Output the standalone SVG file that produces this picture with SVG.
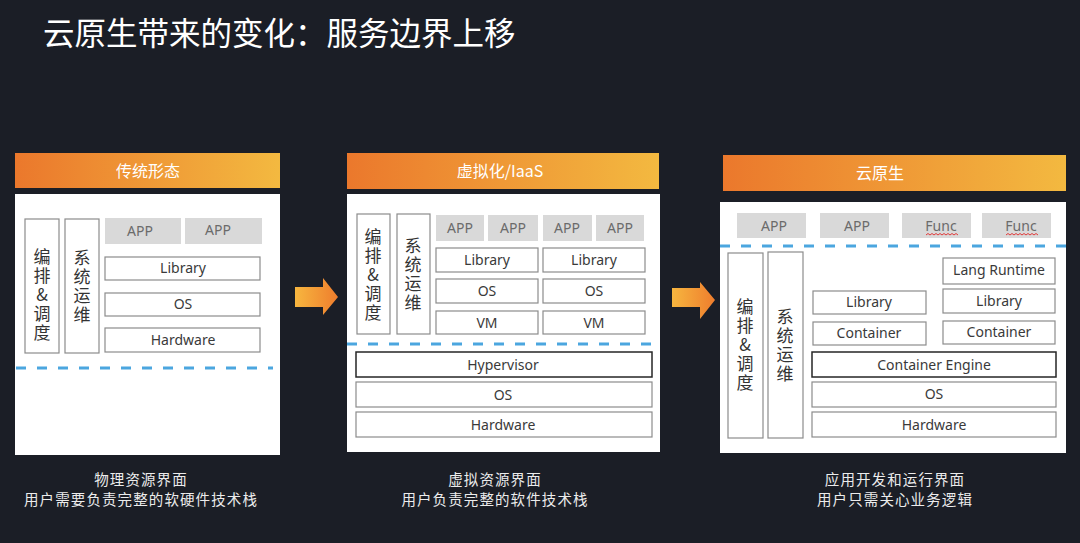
<svg xmlns="http://www.w3.org/2000/svg" width="1080" height="543" viewBox="0 0 1080 543">
<defs>
<linearGradient id="hdr" x1="0" y1="0" x2="1" y2="0">
<stop offset="0" stop-color="#eb782c"/>
<stop offset="1" stop-color="#f3b940"/>
</linearGradient>
<linearGradient id="arr" x1="0" y1="0" x2="1" y2="0">
<stop offset="0" stop-color="#f7b63f"/>
<stop offset="1" stop-color="#ee7d2d"/>
</linearGradient>
<style>
.bg{fill:#1b1e26}
.panel{fill:#ffffff}
.hdr{fill:url(#hdr)}
.htxt{font-family:"Noto Sans CJK SC","Noto Sans",sans-serif;font-size:16px;fill:#ffffff;text-anchor:middle}
.box{fill:#ffffff;stroke:#8c8c8c;stroke-width:1.2}
.dark{fill:#ffffff;stroke:#262626;stroke-width:1.5}
.app{fill:#d9d9d9}
.t{font-family:"Noto Sans","Noto Sans CJK SC",sans-serif;font-size:14px;fill:#3a3a3a;text-anchor:middle}
.ta{font-family:"Noto Sans","Noto Sans CJK SC",sans-serif;font-size:14px;fill:#6b6b6b;text-anchor:middle}
.v{font-family:"Noto Sans CJK SC",sans-serif;font-size:17px;fill:#333333;text-anchor:middle;writing-mode:vertical-rl;text-orientation:upright;letter-spacing:2px}
.dash{stroke:#4ba6df;stroke-width:3;stroke-dasharray:10 11;fill:none}
.cap{font-family:"Noto Sans CJK SC",sans-serif;font-size:14.5px;letter-spacing:1.1px;fill:#ececec;text-anchor:middle}
.sq{stroke:#e03a3a;stroke-width:1;fill:none}
</style>
</defs>
<rect class="bg" x="0" y="0" width="1080" height="543"/>
<text x="43" y="45" font-family="Noto Sans CJK SC, sans-serif" font-size="31.5" fill="#ffffff">云原生带来的变化：服务边界上移</text>

<g id="panel-traditional">
<rect class="hdr" x="15" y="153" width="265" height="35"/>
<text class="htxt" x="148" y="177">传统形态</text>
<rect class="panel" x="15" y="194" width="265" height="261"/>
<rect class="box" x="25" y="219" width="34" height="134"/>
<text class="v" x="42" y="296">编排&amp;调度</text>
<rect class="box" x="65" y="219" width="34" height="134"/>
<text class="v" x="82" y="287">系统运维</text>
<rect class="app" x="105" y="218" width="76" height="26"/>
<text class="ta" x="140" y="236">APP</text>
<rect class="app" x="185" y="218" width="77" height="26"/>
<text class="ta" x="218" y="235">APP</text>
<rect class="box" x="105" y="257" width="155" height="23"/>
<text class="t" x="183" y="273">Library</text>
<rect class="box" x="105" y="293" width="155" height="23"/>
<text class="t" x="183" y="309">OS</text>
<rect class="box" x="105" y="328" width="155" height="24"/>
<text class="t" x="183" y="345">Hardware</text>
<line class="dash" x1="16" y1="368" x2="273" y2="368"/>
</g>

<g id="panel-iaas">
<rect class="hdr" x="347" y="153" width="312" height="36"/>
<text class="htxt" x="500" y="177">虚拟化/IaaS</text>
<rect class="panel" x="347" y="194" width="313" height="258"/>
<rect class="box" x="357" y="214" width="33" height="120"/>
<text class="v" x="373" y="276">编排&amp;调度</text>
<rect class="box" x="397" y="214" width="33" height="120"/>
<text class="v" x="413" y="275">系统运维</text>
<rect class="app" x="436" y="215" width="48" height="26"/>
<text class="ta" x="460" y="233">APP</text>
<rect class="app" x="488" y="215" width="50" height="26"/>
<text class="ta" x="513" y="233">APP</text>
<rect class="app" x="543" y="215" width="49" height="26"/>
<text class="ta" x="567" y="233">APP</text>
<rect class="app" x="596" y="215" width="48" height="26"/>
<text class="ta" x="620" y="233">APP</text>
<rect class="box" x="436" y="248" width="102" height="24"/>
<text class="t" x="487" y="265">Library</text>
<rect class="box" x="543" y="248" width="102" height="24"/>
<text class="t" x="594" y="265">Library</text>
<rect class="box" x="436" y="279" width="102" height="24"/>
<text class="t" x="487" y="296">OS</text>
<rect class="box" x="543" y="279" width="102" height="24"/>
<text class="t" x="594" y="296">OS</text>
<rect class="box" x="436" y="311" width="102" height="23"/>
<text class="t" x="487" y="328">VM</text>
<rect class="box" x="543" y="311" width="102" height="23"/>
<text class="t" x="594" y="328">VM</text>
<line class="dash" x1="347" y1="344" x2="660" y2="344"/>
<rect class="dark" x="356" y="352" width="296" height="25"/>
<text class="t" x="503" y="370">Hypervisor</text>
<rect class="box" x="356" y="382" width="296" height="25"/>
<text class="t" x="503" y="400">OS</text>
<rect class="box" x="356" y="412" width="296" height="25"/>
<text class="t" x="503" y="430">Hardware</text>
</g>

<g id="panel-cloudnative">
<rect class="hdr" x="723" y="155" width="343" height="36"/>
<text class="htxt" x="880" y="179">云原生</text>
<rect class="panel" x="720" y="202" width="346" height="251"/>
<rect class="app" x="737" y="213" width="69" height="25"/>
<text class="ta" x="774" y="231">APP</text>
<rect class="app" x="820" y="213" width="69" height="25"/>
<text class="ta" x="857" y="231">APP</text>
<rect class="app" x="902" y="213" width="69" height="25"/>
<text class="ta" x="941" y="231">Func</text>
<path class="sq" d="M926 235 l2 -1.5 l2 1.5 l2 -1.5 l2 1.5 l2 -1.5 l2 1.5 l2 -1.5 l2 1.5 l2 -1.5 l2 1.5 l2 -1.5 l2 1.5 l2 -1.5 l2 1.5 l2 -1.5 l2 1.5"/>
<rect class="app" x="982" y="213" width="69" height="25"/>
<text class="ta" x="1021" y="231">Func</text>
<path class="sq" d="M1006 235 l2 -1.5 l2 1.5 l2 -1.5 l2 1.5 l2 -1.5 l2 1.5 l2 -1.5 l2 1.5 l2 -1.5 l2 1.5 l2 -1.5 l2 1.5 l2 -1.5 l2 1.5 l2 -1.5 l2 1.5"/>
<line class="dash" x1="720" y1="246" x2="1066" y2="246"/>
<rect class="box" x="728" y="253" width="35" height="185"/>
<text class="v" x="745" y="346">编排&amp;调度</text>
<rect class="box" x="768" y="252" width="35" height="186"/>
<text class="v" x="785" y="346">系统运维</text>
<rect class="box" x="943" y="258" width="112" height="26"/>
<text class="t" x="999" y="275">Lang Runtime</text>
<rect class="box" x="813" y="291" width="113" height="23"/>
<text class="t" x="869" y="307">Library</text>
<rect class="box" x="943" y="289" width="112" height="24"/>
<text class="t" x="999" y="306">Library</text>
<rect class="box" x="813" y="322" width="113" height="23"/>
<text class="t" x="869" y="338">Container</text>
<rect class="box" x="943" y="321" width="112" height="23"/>
<text class="t" x="999" y="337">Container</text>
<rect class="dark" x="812" y="352" width="244" height="25"/>
<text class="t" x="934" y="370">Container Engine</text>
<rect class="box" x="812" y="382" width="244" height="25"/>
<text class="t" x="934" y="399">OS</text>
<rect class="box" x="812" y="412" width="244" height="25"/>
<text class="t" x="934" y="430">Hardware</text>
</g>

<g id="connectors">
<path d="M295 287 H323 V278 L338 297 L323 315 V307 H295 Z" fill="url(#arr)"/>
<path d="M672 288 H700 V282 L715 300 L700 319 V307 H672 Z" fill="url(#arr)"/>
</g>

<g id="captions">
<text class="cap" x="141" y="485">物理资源界面</text>
<text class="cap" x="141" y="505">用户需要负责完整的软硬件技术栈</text>
<text class="cap" x="495" y="485">虚拟资源界面</text>
<text class="cap" x="495" y="505">用户负责完整的软件技术栈</text>
<text class="cap" x="895" y="485">应用开发和运行界面</text>
<text class="cap" x="895" y="505">用户只需关心业务逻辑</text>
</g>
</svg>
